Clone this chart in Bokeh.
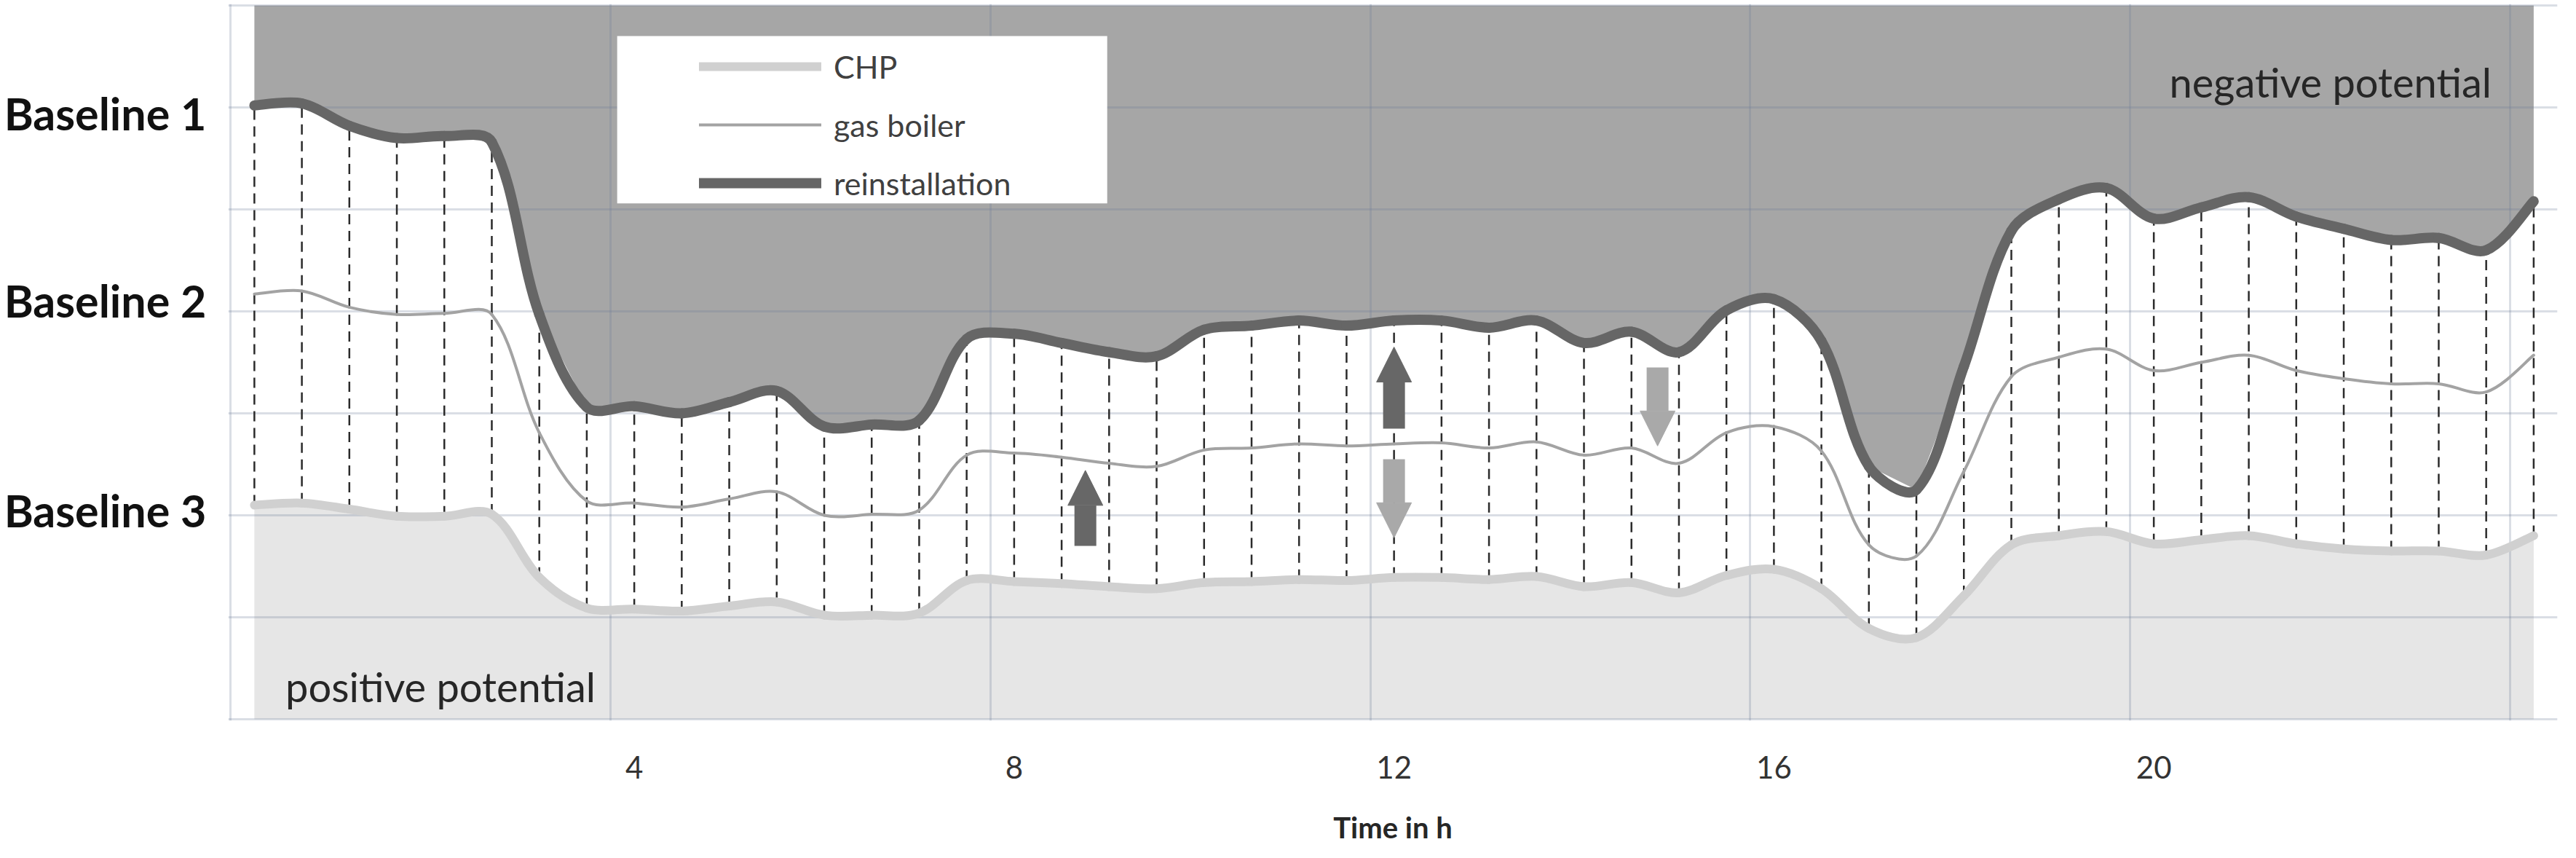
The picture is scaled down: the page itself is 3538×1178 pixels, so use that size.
from bokeh.plotting import figure
from bokeh.models import (Range1d, FixedTicker, Legend, LegendItem, Label,
                          BoxAnnotation, Arrow, NormalHead)
from bokeh.embed import file_html
from bokeh.resources import INLINE
import math

# ---------------- data: 49 half-hour slots (category axis) ----------------
slot_hours = [0.0, 0.5, 1.0, 1.5, 2.0, 2.5, 3.0, 3.5, 4.0, 4.5, 5.0, 5.5,
              6.0, 6.5, 7.0, 7.5, 8.0, 8.5, 9.0, 9.5, 10.0, 10.5, 11.0, 11.5,
              12.0, 12.5, 13.0, 13.5, 14.0, 14.5, 15.0, 15.5, 16.0, 16.5,
              17.0, 17.5, 18.0, 18.5, 19.0, 19.5, 20.0, 20.5, 21.0, 21.5,
              22.0, 22.5, 23.0, 23.5, 24.0]

chp = [2.10, 2.12, 2.06, 1.99, 1.99, 2.01, 1.39, 1.09, 1.08, 1.06, 1.11, 1.15,
       1.02, 1.02, 1.04, 1.36, 1.35, 1.33, 1.30, 1.28, 1.34, 1.35, 1.37, 1.36,
       1.39, 1.39, 1.37, 1.40, 1.30, 1.34, 1.24, 1.41, 1.47, 1.28, 0.89, 0.80,
       1.21, 1.71, 1.80, 1.84, 1.72, 1.76, 1.80, 1.72, 1.67, 1.65, 1.65, 1.61,
       1.80]

gas_boiler = [4.17, 4.20, 4.04, 3.97, 3.98, 3.97, 2.81, 2.14, 2.12, 2.08, 2.16, 2.23,
              2.00, 2.01, 2.05, 2.59, 2.61, 2.57, 2.51, 2.48, 2.64, 2.66, 2.70, 2.68,
              2.70, 2.71, 2.66, 2.72, 2.59, 2.66, 2.51, 2.81, 2.87, 2.63, 1.71, 1.60,
              2.43, 3.36, 3.55, 3.63, 3.42, 3.50, 3.57, 3.42, 3.34, 3.29, 3.29, 3.21,
              3.57]

reinstallation = [6.02, 6.04, 5.82, 5.70, 5.72, 5.66, 3.97, 3.06, 3.07, 3.00, 3.11, 3.22,
                  2.87, 2.89, 2.93, 3.73, 3.78, 3.69, 3.60, 3.56, 3.82, 3.86, 3.91, 3.86,
                  3.91, 3.91, 3.84, 3.91, 3.69, 3.80, 3.60, 4.01, 4.12, 3.71, 2.48, 2.25,
                  3.46, 4.79, 5.10, 5.21, 4.91, 5.02, 5.12, 4.93, 4.81, 4.70, 4.72, 4.60,
                  5.08]

tick_hours = [4, 8, 12, 16, 20]
tick_labels = ["4", "8", "12", "16", "20"]
grid_hours = [0, 4, 8, 12, 16, 20, 24]
y_levels = [0, 1, 2, 3, 4, 5, 6, 7]
baseline_names = ["Baseline 1", "Baseline 2", "Baseline 3"]
baseline_levels = [5.94, 4.11, 2.05]

# arrows (x in category units, tail -> tip)
arrow_x = [18.0, 24.5, 24.5, 30.05]
arrow_tail = [1.70, 2.85, 2.55, 3.45]
arrow_tip = [2.44, 3.65, 1.78, 2.68]
arrow_dark = [True, True, False, False]

# ---------------- layout ----------------
W, H = 3522, 1162
B_LEFT, B_RIGHT, B_TOP, B_BOTTOM = 313, 10, 5, 172
X0, X1 = -0.05, 49.0
Y0, Y1 = -0.015, 7.015
PX_X = (W - B_LEFT - B_RIGHT) / (X1 - X0)   # px per x unit
PX_Y = (H - B_TOP - B_BOTTOM) / (Y1 - Y0)   # px per y unit


def slot_pos(h):
    # category centre of the slot starting at hour h
    return 2 * h + 0.5

xs = [slot_pos(h) for h in slot_hours]


def smooth(x, y):
    """Excel-like smoothed line: cubic Bezier segments whose control
    vectors follow the neighbour chord, weighted by segment lengths."""
    n = len(x)
    sx = [v * PX_X for v in x]
    sy = [v * PX_Y for v in y]

    def dist(i, j):
        return math.hypot(sx[j] - sx[i], sy[j] - sy[i])

    after, before = [], []
    for i in range(n):
        im, ip = max(i - 1, 0), min(i + 1, n - 1)
        tx, ty = x[ip] - x[im], y[ip] - y[im]
        d1 = dist(im, i)
        d2 = dist(i, ip)
        s = d1 + d2 if d1 + d2 > 0 else 1.0
        fa = (d2 / s) / 3.0 if 0 < i < n - 1 else 1 / 6.0
        fb = (d1 / s) / 3.0 if 0 < i < n - 1 else 1 / 6.0
        after.append((x[i] + tx * fa, y[i] + ty * fa))
        before.append((x[i] - tx * fb, y[i] - ty * fb))
    seg = dict(x0=[], y0=[], x1=[], y1=[], cx0=[], cy0=[], cx1=[], cy1=[])
    for i in range(n - 1):
        seg["x0"].append(x[i]); seg["y0"].append(y[i])
        seg["x1"].append(x[i + 1]); seg["y1"].append(y[i + 1])
        seg["cx0"].append(after[i][0]); seg["cy0"].append(after[i][1])
        seg["cx1"].append(before[i + 1][0]); seg["cy1"].append(before[i + 1][1])
    return seg


Y_TOP = y_levels[-1]
FONT = "Lato"

p = figure(width=W, height=H,
           x_range=Range1d(X0, X1), y_range=Range1d(Y0, Y1),
           output_backend="svg", toolbar_location=None,
           min_border_left=B_LEFT, min_border_right=B_RIGHT,
           min_border_top=B_TOP, min_border_bottom=B_BOTTOM)
p.outline_line_color = None
p.background_fill_color = "white"
p.border_fill_color = "white"

# ---- area fills (straight segments, like Excel area series) ----
neg = p.varea(x=xs, y1=reinstallation, y2=[Y_TOP] * len(xs),
              fill_color="#a6a6a6", fill_alpha=1.0)
pos = p.varea(x=xs, y1=[0] * len(xs), y2=chp,
              fill_color="#e6e6e6", fill_alpha=1.0)
neg.level = "image"
pos.level = "image"

# ---- grid lines (drawn over the fills, semi transparent) ----
p.xgrid.ticker = FixedTicker(ticks=[2 * h for h in grid_hours])
p.ygrid.ticker = FixedTicker(ticks=y_levels)
for g in (p.xgrid, p.ygrid):
    g.grid_line_color = "#6b7d99"
    g.grid_line_alpha = 0.25
    g.grid_line_width = 3

# ---- dashed high-low lines between CHP and reinstallation ----
p.segment(x0=xs, y0=chp, x1=xs, y1=reinstallation,
          line_color="#2b2b2b", line_width=2.5, line_dash="14 9")

# ---- smoothed lines ----
r_chp = p.bezier(**smooth(xs, chp), line_color="#d0d0d0", line_width=12,
                 line_cap="round")
r_gas = p.bezier(**smooth(xs, gas_boiler), line_color="#a3a3a3", line_width=4,
                 line_cap="round")
r_rei = p.bezier(**smooth(xs, reinstallation), line_color="#666666",
                 line_width=14, line_cap="round")

# ---- arrows ----
for ax, y0, y1, dark in zip(arrow_x, arrow_tail, arrow_tip, arrow_dark):
    col = "#676767" if dark else "#a9a9a9"
    p.add_layout(Arrow(x_start=ax, y_start=y0, x_end=ax, y_end=y1,
                       line_color=col, line_width=30,
                       end=NormalHead(size=48, fill_color=col, line_color=col,
                                      line_width=1)))

# ---- texts inside the plot ----
p.add_layout(Label(x=44.22, y=6.25, text="negative potential",
                   text_align="center", text_baseline="alphabetic",
                   text_font=FONT, text_font_size="56px", text_color="#262626"))
p.add_layout(Label(x=4.42, y=0.32, text="positive potential",
                   text_align="center", text_baseline="alphabetic",
                   text_font=FONT, text_font_size="56px", text_color="#262626"))

# ---- legend ----
p.add_layout(BoxAnnotation(left=8.14, right=18.46, bottom=5.06, top=6.70,
                           fill_color="white", fill_alpha=1.0, line_color=None))
legend = Legend(items=[LegendItem(label="CHP", renderers=[r_chp]),
                       LegendItem(label="gas boiler", renderers=[r_gas]),
                       LegendItem(label="reinstallation", renderers=[r_rei])],
                location=(647, 710), orientation="vertical",
                glyph_width=168, glyph_height=56, label_height=56,
                label_standoff=17, spacing=24, padding=0, margin=0,
                background_fill_alpha=0.0, border_line_color=None,
                label_text_font=FONT, label_text_font_size="43px",
                label_text_color="#404040")
legend.level = "overlay"
p.add_layout(legend, "center")

# ---- x axis ----
xa = p.xaxis[0]
xa.ticker = FixedTicker(ticks=[slot_pos(h) for h in tick_hours])
xa.major_label_overrides = {slot_pos(h): lab for h, lab in zip(tick_hours, tick_labels)}
xa.axis_line_color = None
xa.major_tick_line_color = None
xa.minor_tick_line_color = None
xa.major_label_standoff = 42
xa.major_label_text_font = FONT
xa.major_label_text_font_size = "42px"
xa.major_label_text_color = "#333333"
xa.axis_label = "Time in h"
xa.axis_label_standoff = 40
xa.axis_label_text_font = FONT
xa.axis_label_text_font_size = "40px"
xa.axis_label_text_font_style = "bold"
xa.axis_label_text_color = "#262626"

# ---- y axis carrying the baseline names ----
ya = p.yaxis[0]
ya.ticker = FixedTicker(ticks=baseline_levels)
ya.major_label_overrides = {lv: nm for lv, nm in zip(baseline_levels, baseline_names)}
ya.axis_line_color = None
ya.major_tick_line_color = None
ya.minor_tick_line_color = None
ya.major_label_standoff = 24
ya.major_label_text_font = FONT
ya.major_label_text_font_size = "61px"
ya.major_label_text_font_style = "bold"
ya.major_label_text_color = "#111111"

open("out.html", "w").write(file_html(p, INLINE))
